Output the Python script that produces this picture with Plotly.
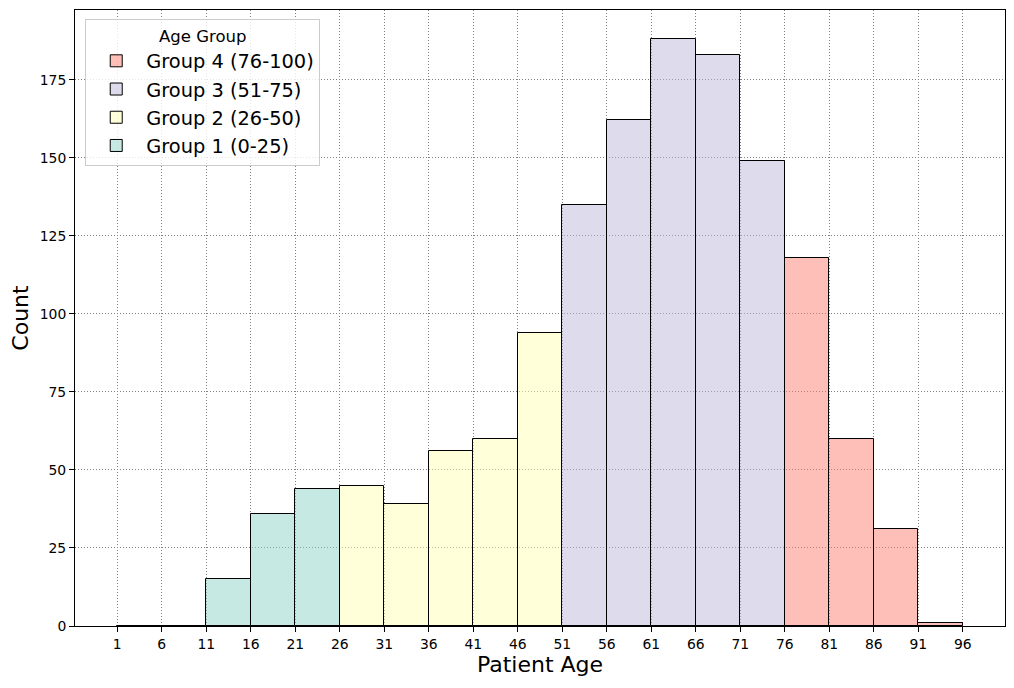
import plotly.graph_objects as go

bin_starts = [1, 6, 11, 16, 21, 26, 31, 36, 41, 46, 51, 56, 61, 66, 71, 76, 81, 86, 91]
counts = [0, 0, 15, 36, 44, 45, 39, 56, 60, 94, 135, 162, 188, 183, 149, 118, 60, 31, 1]
bin_width = 5
groups = ["Group 1 (0-25)", "Group 2 (26-50)", "Group 3 (51-75)", "Group 4 (76-100)"]
group_bounds = [(0, 25), (26, 50), (51, 75), (76, 100)]
group_colors = ["rgba(141,211,199,0.5)", "rgba(255,255,179,0.5)",
                "rgba(190,186,218,0.5)", "rgba(251,128,114,0.5)"]
x_ticks = list(range(1, 97, 5))
y_ticks = list(range(0, 176, 25))

fig = go.Figure()
for name, (lo, hi), col in zip(groups, group_bounds, group_colors):
    xs = [s for s in bin_starts if lo <= s <= hi]
    ys = [c for s, c in zip(bin_starts, counts) if lo <= s <= hi]
    fig.add_trace(go.Bar(
        x=xs, y=ys, width=bin_width, offset=0, name=name,
        marker=dict(color=col, line=dict(color="black", width=1)),
    ))

fig.update_layout(
    width=1000, height=672,
    margin=dict(l=67, r=3, t=2, b=54, autoexpand=False),
    plot_bgcolor="white", paper_bgcolor="white",
    bargap=0,
    font=dict(family="DejaVu Sans", color="black", size=13.9),
    showlegend=True,
    legend=dict(
        title=dict(text="Age Group", font=dict(size=16.5), side="top center"),
        x=0.011, y=0.985, xanchor="left", yanchor="top",
        traceorder="reversed", font=dict(size=19.4),
        bgcolor="rgba(255,255,255,0.8)", bordercolor="#cccccc", borderwidth=1,
        itemwidth=50,
    ),
    xaxis=dict(
        range=[-3.75, 100.75], tickmode="array", tickvals=x_ticks,
        ticks="outside", ticklen=5, tickcolor="black",
        showline=True, mirror=True, linecolor="black", linewidth=1,
        showgrid=True, gridcolor="gray", griddash="1px,2px", gridwidth=1,
        zeroline=False, automargin=False,
        title=dict(text="Patient Age", font=dict(size=22), standoff=4),
    ),
    yaxis=dict(
        range=[0, 197.4], tickmode="array", tickvals=y_ticks,
        ticks="outside", ticklen=5, tickcolor="black",
        showline=True, mirror=True, linecolor="black", linewidth=1,
        showgrid=True, gridcolor="gray", griddash="1px,2px", gridwidth=1,
        zeroline=False, automargin=False,
        title=dict(text="Count", font=dict(size=22), standoff=8),
    ),
)

fig.write_html("out.html")
